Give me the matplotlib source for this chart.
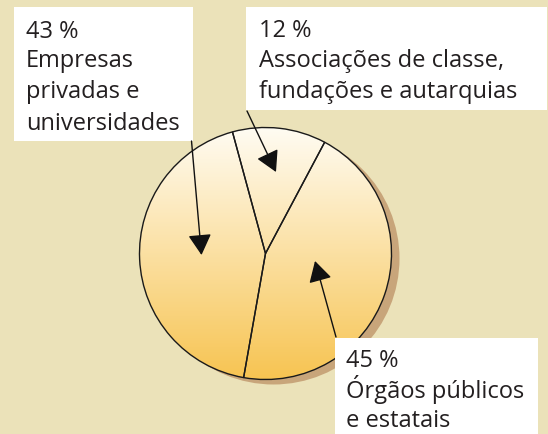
import numpy as np
import matplotlib
matplotlib.use("Agg")
import matplotlib.pyplot as plt
from matplotlib.patches import Rectangle, Circle, FancyArrowPatch

plt.rcParams['font.family'] = ['Open Sans', 'DejaVu Sans']

# ---- data ----
categories = ["Associações de classe, fundações e autarquias",
              "Empresas privadas e universidades",
              "Órgãos públicos e estatais"]
percentages = [12, 43, 45]
pct_labels = ["12 %", "43 %", "45 %"]
label_lines = [["Associações de classe,", "fundações e autarquias"],
               ["Empresas", "privadas e", "universidades"],
               ["Órgãos públicos", "e estatais"]]

W, H = 548, 434
fig = plt.figure(figsize=(W / 100, H / 100), dpi=100)
ax = fig.add_axes([0, 0, 1, 1])
ax.set_xlim(0, W)
ax.set_ylim(0, H)
ax.axis('off')
fig.patch.set_facecolor('#ebe2b9')

def Y(y):  # pixel-from-top -> data
    return H - y

cx, cy, R = 265.5, Y(253.5), 126

# shadow
ax.add_patch(Circle((cx + 8, cy - 5), R, facecolor='#c8a57a', edgecolor='none', zorder=1))

# gradient fill clipped to circle
n = 256
t = np.linspace(0, 1, n)[:, None]
top = np.array([255, 252, 243]) / 255
bot = np.array([247, 196, 82]) / 255
grad = top + (bot - top) * t
img = np.repeat(grad[:, None, :], 4, axis=1).reshape(n, 4, 3)
im = ax.imshow(img, extent=(cx - R, cx + R, cy - R, cy + R), origin='upper',
               aspect='auto', zorder=2, interpolation='bilinear')
clip = Circle((cx, cy), R, transform=ax.transData)
im.set_clip_path(clip)

wedges, _ = ax.pie(percentages, startangle=62, counterclock=True, center=(cx, cy), radius=R,
                   colors=['none'] * 3, wedgeprops=dict(edgecolor='#1a1a1a', linewidth=1.0),
                   frame=True)
for w in wedges:
    w.set_zorder(3)
ax.set_xlim(0, W)
ax.set_ylim(0, H)
ax.set_aspect('equal')
ax.axis('off')

# label boxes (x0, y0_top, x1, y1_bottom) in pixels
boxes = [(246, 7, 547, 110), (14, 7, 193, 141), (335, 338, 538, 434)]
text_x = [259, 26, 346]
baselines = [[37, 67, 98], [38, 67, 98, 130], [367, 398, 427]]
txtc = '#231f20'
fs = 17
for i in range(3):
    x0, y0, x1, y1 = boxes[i]
    ax.add_patch(Rectangle((x0, Y(y1)), x1 - x0, y1 - y0, facecolor='white',
                           edgecolor='none', zorder=4))
    lines = [pct_labels[i]] + label_lines[i]
    for ln, b in zip(lines, baselines[i]):
        ax.text(text_x[i], Y(b), ln, fontsize=fs, color=txtc, va='baseline',
                ha='left', zorder=5)

# arrows (start, tip) in pixels
arrows = [((247, 111), (276, 172)), ((191.5, 141), (201.5, 255)), ((336, 337), (315, 261))]
for (s, e) in arrows:
    ax.add_patch(FancyArrowPatch((s[0], Y(s[1])), (e[0], Y(e[1])),
                                 arrowstyle='-|>,head_length=8,head_width=4.5',
                                 color='#111111', linewidth=1.0, zorder=6,
                                 shrinkA=0, shrinkB=0, mutation_scale=1.6))

fig.savefig('out.png', dpi=100, facecolor=fig.get_facecolor())
